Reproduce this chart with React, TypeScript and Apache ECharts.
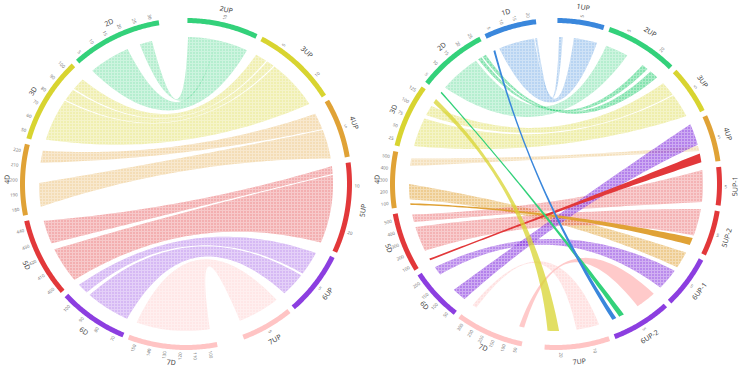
import { useEffect, useRef } from 'react';
import * as echarts from 'echarts';

const PALETTE: Record<string, string> = {
  '1': '#3a87dc',
  '2': '#33d17a',
  '3': '#d8d430',
  '4': '#e0a236',
  '5': '#e2383a',
  '6': '#8c3ee0',
  '7': '#ffc4c4',
};

// ---------- Left diagram ----------
const leftNames = ['2UP', '3UP', '4UP', '5UP', '6UP', '7UP', '7D', '6D', '5D', '4D', '3D', '2D'];
const leftSizes = [25, 30, 21, 32, 22.5, 18.5, 31.5, 24.5, 28, 25, 30.5, 32];
const leftGaps = [2, 2, 2, 2, 2, 9.5, 2, 2, 2, 2, 2, 10];
const leftTicks = [
  ['10'], ['5', '10'], ['5'], ['10', '20'], ['5'], ['5'],
  ['100', '110', '120', '130', '140', '150'],
  ['70', '80', '90', '100'],
  ['400', '410', '420', '430', '440'],
  ['180', '190', '200', '210', '220'],
  ['50', '60', '70', '80', '90', '100'],
  ['5', '10', '15', '20', '25', '30'],
];
// [source, sourceFrom, sourceTo, target, targetFrom, targetTo]
const leftLinks: [string, number, number, string, number, number][] = [
  ['2D', 1.9, 18.1, '2UP', 11.5, 24],
  ['2D', 23.2, 28.1, '2UP', 0.3, 11.5],
  ['3D', 24.4, 29.3, '3UP', 1, 5.5],
  ['3D', 19, 23.8, '3UP', 6, 9],
  ['3D', 1.6, 18.5, '3UP', 9.5, 29.5],
  ['4D', 19.3, 24.1, '4UP', 2, 8.5],
  ['4D', 2.1, 11.4, '4UP', 9, 20.5],
  ['5D', 17.2, 26.5, '5UP', 0.5, 3.5],
  ['5D', 0.3, 14.6, '5UP', 4, 31],
  ['6D', 20, 24.2, '6UP', 1.5, 11],
  ['6D', 1.1, 18.5, '6UP', 11.9, 21.5],
  ['7D', 1.7, 30.6, '7UP', 1, 17.5],
];
const leftAlpha = [0.36, 0.36, 0.38, 0.38, 0.38, 0.36, 0.36, 0.4, 0.4, 0.36, 0.36, 0.4];

// ---------- Right diagram ----------
const rightNames = ['1UP', '2UP', '3UP', '4UP', '5UP-1', '5UP-2', '6UP-1', '6UP-2', '7UP', '7D', '6D', '5D', '4D', '3D', '2D', '1D'];
const rightSizes = [16.5, 25.5, 17, 16.5, 13.5, 16, 18.5, 21, 23, 24, 18.5, 21, 20, 22.5, 24.5, 18.5];
const rightGaps = [2, 2, 2, 2, 2, 2, 2, 2, 8, 2, 2, 2, 2, 2, 2, 7.5];
const rightTicks = [
  ['5'], ['5', '20'], ['5'], ['5'], ['5'], ['5'], ['5'], ['5'], ['10', '20'],
  ['50', '100', '150', '200', '250', '300'],
  ['50', '100', '150', '200'],
  ['100', '200', '300', '400', '500'],
  ['100', '200', '300', '400', '500'],
  ['25', '50', '75', '100', '125'],
  ['5', '10', '15', '20', '25'],
  ['5', '10', '15', '20'],
];
const rightLinks: [string, number, number, string, number, number][] = [
  ['1D', 2.8, 16.9, '1UP', 6.5, 15.7],
  ['1D', 17.3, 18.1, '1UP', 0.7, 2.1],
  ['2D', 3, 19, '2UP', 1, 10],
  ['2D', 20, 21.5, '2UP', 17, 19.5],
  ['2D', 22, 23.5, '2UP', 21, 24.5],
  ['3D', 14.5, 18.5, '3UP', 0.3, 6],
  ['3D', 1.5, 13, '3UP', 6.5, 16],
  ['4D', 15.5, 18.5, '4UP', 9.5, 11.5],
  ['4D', 2.5, 8.5, '6UP-1', 0.3, 7],
  ['5D', 16.5, 19.5, '5UP-1', 0.5, 13],
  ['5D', 4.5, 14.5, '5UP-2', 0.3, 11],
  ['6D', 14, 17.5, '6UP-1', 8.7, 17.3],
  ['6D', 0.5, 6, '4UP', 0.5, 9],
  ['7D', 20.8, 22.5, '7UP', 2, 11],
  ['7D', 0.5, 2.5, '6UP-2', 0.3, 8.3],
  ['4D', 0.3, 1, '5UP-2', 12, 15],
  ['5D', 0.3, 1, '4UP', 12.5, 16],
  ['3D', 20, 21.8, '7UP', 17.8, 22.3],
  ['2D', 0.3, 0.9, '6UP-2', 14.5, 16.5],
  ['1D', 0.3, 1.1, '6UP-2', 17.8, 19.5],
];
const rightAlpha = [0.36, 0.36, 0.36, 0.6, 0.6, 0.4, 0.4, 0.32, 0.55, 0.38, 0.38, 0.6, 0.65, 0.5, 0.9, 1, 1, 0.75, 1, 1];

const R_RIBBON = 147;
const R_IN = 161;
const R_OUT = 166;
const R_TICK = 168.5;
const R_NAME = 179;
const R_CTRL = 25;

let gridPattern: any = null;
function getGridPattern() {
  if (gridPattern) return gridPattern;
  try {
    const c = document.createElement('canvas');
    c.width = 3;
    c.height = 3;
    const ctx = c.getContext('2d');
    if (!ctx) return null;
    ctx.fillStyle = 'rgba(255,255,255,0.33)';
    ctx.fillRect(0, 0, 3, 1);
    ctx.fillRect(0, 1, 1, 2);
    gridPattern = { image: c.toDataURL(), repeat: 'repeat', imageWidth: 3, imageHeight: 3 };
  } catch (e) {
    gridPattern = null;
  }
  return gridPattern;
}

function layoutOf(names: string[], sizes: number[], gaps: number[], start: number) {
  const out: Record<string, { start: number; end: number }> = {};
  let a = start;
  names.forEach((n, i) => {
    out[n] = { start: a, end: a + sizes[i] };
    a += sizes[i] + gaps[i];
  });
  return out;
}

function rgba(hex: string, a: number) {
  const v = parseInt(hex.slice(1), 16);
  return `rgba(${(v >> 16) & 255},${(v >> 8) & 255},${v & 255},${a})`;
}

function arcPts(api: any, r: number, from: number, to: number, out: number[][]) {
  const n = Math.max(2, Math.ceil(Math.abs(to - from) * 2));
  for (let i = 0; i <= n; i++) out.push(api.coord([r, from + ((to - from) * i) / n]));
}

function bisector(a: number, b: number) {
  const d = ((b - a + 540) % 360) - 180;
  return a + d / 2;
}

function bezPts(api: any, from: number, to: number, out: number[][]) {
  const p0 = api.coord([R_RIBBON, from]);
  const p2 = api.coord([R_RIBBON, to]);
  const c = api.coord([R_CTRL, bisector(from, to)]);
  const n = 60;
  for (let i = 1; i < n; i++) {
    const t = i / n;
    const u = 1 - t;
    out.push([
      u * u * p0[0] + 2 * u * t * c[0] + t * t * p2[0],
      u * u * p0[1] + 2 * u * t * c[1] + t * t * p2[1],
    ]);
  }
}

function ribbonRenderer(layout: any, links: any[], alphas: number[]) {
  return (params: any, api: any) => {
    const l = links[params.dataIndex];
    const s = layout[l[0]];
    const t = layout[l[3]];
    const a0 = s.start + l[1];
    const a1 = s.start + l[2];
    const b0 = t.start + l[4];
    const b1 = t.start + l[5];
    const pts: number[][] = [];
    arcPts(api, R_RIBBON, a0, a1, pts);
    bezPts(api, a1, b0, pts);
    arcPts(api, R_RIBBON, b0, b1, pts);
    bezPts(api, b1, a0, pts);
    const alpha = alphas[params.dataIndex];
    const children: any[] = [
      {
        type: 'polygon',
        shape: { points: pts },
        style: { fill: rgba(PALETTE[l[0][0]], alpha), stroke: 'none' },
      },
    ];
    const pat = getGridPattern();
    if (pat && alpha < 0.7) {
      children.push({
        type: 'polygon',
        shape: { points: pts },
        style: { fill: pat, stroke: 'none' },
      });
    }
    return { type: 'group', children };
  };
}

function segmentRenderer(layout: any, names: string[], ticks: string[][]) {
  return (params: any, api: any) => {
    const name = names[params.dataIndex];
    const seg = layout[name];
    const children: any[] = [];
    const outer: number[][] = [];
    arcPts(api, R_OUT, seg.start, seg.end, outer);
    const inner: number[][] = [];
    arcPts(api, R_IN, seg.end, seg.start, inner);
    children.push({
      type: 'polygon',
      shape: { points: outer.concat(inner) },
      style: { fill: PALETTE[name[0]] },
    });
    const mid = (seg.start + seg.end) / 2;
    const th = ((mid % 360) + 360) % 360;
    const np = api.coord([R_NAME, mid]);
    const rot = th > 90 && th < 270 ? 180 - th : -th;
    children.push({
      type: 'text',
      x: np[0],
      y: np[1],
      rotation: (rot * Math.PI) / 180,
      style: {
        text: name,
        fontSize: 7,
        fontFamily: 'Noto Sans',
        fill: '#444',
        align: 'center',
        verticalAlign: 'middle',
      },
    });
    const list = ticks[params.dataIndex];
    list.forEach((lab, k) => {
      const a = seg.start + ((k + 0.5) * (seg.end - seg.start)) / list.length;
      const aa = ((a % 360) + 360) % 360;
      const p = api.coord([R_TICK, a]);
      const right = aa < 180;
      children.push({
        type: 'text',
        x: p[0],
        y: p[1],
        rotation: (((right ? 90 : 270) - aa) * Math.PI) / 180,
        style: {
          text: lab,
          fontSize: 4.5,
          fontFamily: 'Noto Sans',
          fill: '#777',
          align: right ? 'left' : 'right',
          verticalAlign: 'middle',
        },
      });
    });
    return { type: 'group', children };
  };
}

export default function App() {
  const ref = useRef<HTMLDivElement>(null);
  useEffect(() => {
    if (!ref.current) return;
    const chart = echarts.init(ref.current, undefined, { renderer: 'svg' });
    const leftLayout = layoutOf(leftNames, leftSizes, leftGaps, 0.5);
    const rightLayout = layoutOf(rightNames, rightSizes, rightGaps, 0.5);
    const axisBase = { type: 'value', min: 0, max: 360, startAngle: 90, clockwise: true, show: false };
    const radBase = { type: 'value', min: 0, max: R_OUT, show: false };
    chart.setOption({
      animation: false,
      backgroundColor: '#ffffff',
      polar: [
        { center: [186, 184], radius: R_OUT },
        { center: [556, 184], radius: R_OUT },
      ],
      angleAxis: [
        { ...axisBase, polarIndex: 0 },
        { ...axisBase, polarIndex: 1 },
      ],
      radiusAxis: [
        { ...radBase, polarIndex: 0 },
        { ...radBase, polarIndex: 1 },
      ],
      series: [
        {
          type: 'custom',
          coordinateSystem: 'polar',
          polarIndex: 0,
          silent: true,
          z: 1,
          renderItem: ribbonRenderer(leftLayout, leftLinks, leftAlpha),
          data: leftLinks.map(() => [0, 0]),
        },
        {
          type: 'custom',
          coordinateSystem: 'polar',
          polarIndex: 0,
          silent: true,
          z: 2,
          renderItem: segmentRenderer(leftLayout, leftNames, leftTicks),
          data: leftNames.map(() => [0, 0]),
        },
        {
          type: 'custom',
          coordinateSystem: 'polar',
          polarIndex: 1,
          silent: true,
          z: 1,
          renderItem: ribbonRenderer(rightLayout, rightLinks, rightAlpha),
          data: rightLinks.map(() => [0, 0]),
        },
        {
          type: 'custom',
          coordinateSystem: 'polar',
          polarIndex: 1,
          silent: true,
          z: 2,
          renderItem: segmentRenderer(rightLayout, rightNames, rightTicks),
          data: rightNames.map(() => [0, 0]),
        },
      ],
    });
    return () => chart.dispose();
  }, []);
  return (
    <div
      ref={ref}
      style={{ position: 'absolute', left: 0, top: 0, width: 754, height: 388, background: '#fff' }}
    />
  );
}
